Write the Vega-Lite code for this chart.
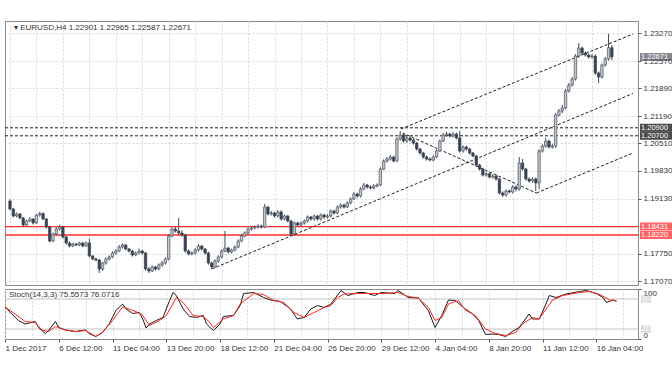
{
  "$schema": "https://vega.github.io/schema/vega-lite/v6.json",
  "autosize": {"type": "pad"},
  "padding": {"left": 3, "top": 20, "right": 0, "bottom": 0},
  "background": "white",
  "spacing": 2,
  "resolve": {"scale": {"color": "independent"}},
  "config": {
    "view": {"stroke": "#8a8a8a", "strokeWidth": 1},
    "font": "Liberation Sans",
    "axis": {"labelFont": "Liberation Sans", "labelFontSize": 8, "labelColor": "#333333", "tickColor": "#555555", "domain": false, "gridColor": "#d6d6d6", "gridDash": [2, 2], "gridWidth": 1, "title": null, "labelOverlap": false, "labelSeparation": 0}
  },
  "datasets": {
    "candles": [
      {"i":0,"o":1.1907,"h":1.1911,"l":1.1884,"c":1.1887},
      {"i":1,"o":1.1887,"h":1.1890,"l":1.1866,"c":1.18695},
      {"i":2,"o":1.18695,"h":1.1878,"l":1.1866,"c":1.18745},
      {"i":3,"o":1.18745,"h":1.1877,"l":1.1862,"c":1.18645},
      {"i":4,"o":1.18645,"h":1.1867,"l":1.1843,"c":1.1847},
      {"i":5,"o":1.1847,"h":1.1860,"l":1.1844,"c":1.1857},
      {"i":6,"o":1.1857,"h":1.1866,"l":1.1854,"c":1.1862},
      {"i":7,"o":1.1862,"h":1.1864,"l":1.1848,"c":1.1852},
      {"i":8,"o":1.1852,"h":1.1875,"l":1.1850,"c":1.1872},
      {"i":9,"o":1.1872,"h":1.1880,"l":1.1868,"c":1.1876},
      {"i":10,"o":1.1876,"h":1.1878,"l":1.1859,"c":1.1862},
      {"i":11,"o":1.1862,"h":1.1864,"l":1.1838,"c":1.1842},
      {"i":12,"o":1.1842,"h":1.1845,"l":1.1803,"c":1.1807},
      {"i":13,"o":1.1807,"h":1.1828,"l":1.1804,"c":1.18245},
      {"i":14,"o":1.18245,"h":1.1841,"l":1.1821,"c":1.1837},
      {"i":15,"o":1.1837,"h":1.1848,"l":1.1833,"c":1.1842},
      {"i":16,"o":1.1842,"h":1.1845,"l":1.1813,"c":1.1817},
      {"i":17,"o":1.1817,"h":1.1820,"l":1.1798,"c":1.1802},
      {"i":18,"o":1.1802,"h":1.1806,"l":1.1791,"c":1.17945},
      {"i":19,"o":1.17945,"h":1.1803,"l":1.1792,"c":1.17995},
      {"i":20,"o":1.17995,"h":1.1802,"l":1.1794,"c":1.1797},
      {"i":21,"o":1.1797,"h":1.1805,"l":1.1794,"c":1.1802},
      {"i":22,"o":1.1802,"h":1.1805,"l":1.1791,"c":1.17945},
      {"i":23,"o":1.17945,"h":1.1806,"l":1.1792,"c":1.1802},
      {"i":24,"o":1.1802,"h":1.1812,"l":1.1766,"c":1.17695},
      {"i":25,"o":1.17695,"h":1.1772,"l":1.1759,"c":1.1762},
      {"i":26,"o":1.1762,"h":1.1765,"l":1.1756,"c":1.17595},
      {"i":27,"o":1.17595,"h":1.1762,"l":1.1727,"c":1.1737},
      {"i":28,"o":1.1737,"h":1.1755,"l":1.1732,"c":1.1752},
      {"i":29,"o":1.1752,"h":1.1766,"l":1.1748,"c":1.1762},
      {"i":30,"o":1.1762,"h":1.1771,"l":1.1758,"c":1.1767},
      {"i":31,"o":1.1767,"h":1.1781,"l":1.1764,"c":1.1777},
      {"i":32,"o":1.1777,"h":1.1786,"l":1.1773,"c":1.1782},
      {"i":33,"o":1.1782,"h":1.1797,"l":1.1779,"c":1.1792},
      {"i":34,"o":1.1792,"h":1.1801,"l":1.1788,"c":1.1797},
      {"i":35,"o":1.1797,"h":1.1799,"l":1.1784,"c":1.1787},
      {"i":36,"o":1.1787,"h":1.1790,"l":1.1778,"c":1.1782},
      {"i":37,"o":1.1782,"h":1.1785,"l":1.1768,"c":1.1772},
      {"i":38,"o":1.1772,"h":1.1781,"l":1.1769,"c":1.1777},
      {"i":39,"o":1.1777,"h":1.1788,"l":1.1774,"c":1.1782},
      {"i":40,"o":1.1782,"h":1.1785,"l":1.1773,"c":1.1777},
      {"i":41,"o":1.1777,"h":1.1780,"l":1.1733,"c":1.1737},
      {"i":42,"o":1.1737,"h":1.1742,"l":1.1727,"c":1.1732},
      {"i":43,"o":1.1732,"h":1.1746,"l":1.1729,"c":1.1742},
      {"i":44,"o":1.1742,"h":1.1745,"l":1.1733,"c":1.1737},
      {"i":45,"o":1.1737,"h":1.1751,"l":1.1734,"c":1.1747},
      {"i":46,"o":1.1747,"h":1.1757,"l":1.1743,"c":1.1752},
      {"i":47,"o":1.1752,"h":1.1766,"l":1.1748,"c":1.1762},
      {"i":48,"o":1.1762,"h":1.1823,"l":1.1758,"c":1.18195},
      {"i":49,"o":1.18195,"h":1.1841,"l":1.1816,"c":1.1837},
      {"i":50,"o":1.1837,"h":1.1842,"l":1.1828,"c":1.1832},
      {"i":51,"o":1.1832,"h":1.18645,"l":1.1823,"c":1.1827},
      {"i":52,"o":1.1827,"h":1.1834,"l":1.1818,"c":1.1822},
      {"i":53,"o":1.1822,"h":1.1825,"l":1.1778,"c":1.1782},
      {"i":54,"o":1.1782,"h":1.1786,"l":1.1771,"c":1.17745},
      {"i":55,"o":1.17745,"h":1.1781,"l":1.1771,"c":1.1777},
      {"i":56,"o":1.1777,"h":1.1789,"l":1.1774,"c":1.17845},
      {"i":57,"o":1.17845,"h":1.1799,"l":1.1781,"c":1.17945},
      {"i":58,"o":1.17945,"h":1.1797,"l":1.1783,"c":1.1787},
      {"i":59,"o":1.1787,"h":1.1790,"l":1.1773,"c":1.1777},
      {"i":60,"o":1.1777,"h":1.1780,"l":1.1748,"c":1.1752},
      {"i":61,"o":1.1752,"h":1.1755,"l":1.1737,"c":1.1742},
      {"i":62,"o":1.1742,"h":1.1761,"l":1.1739,"c":1.1757},
      {"i":63,"o":1.1757,"h":1.1771,"l":1.1753,"c":1.1767},
      {"i":64,"o":1.1767,"h":1.1786,"l":1.1764,"c":1.1782},
      {"i":65,"o":1.1782,"h":1.1832,"l":1.1779,"c":1.17895},
      {"i":66,"o":1.17895,"h":1.1792,"l":1.1776,"c":1.17795},
      {"i":67,"o":1.17795,"h":1.1788,"l":1.1776,"c":1.17845},
      {"i":68,"o":1.17845,"h":1.1796,"l":1.1781,"c":1.1792},
      {"i":69,"o":1.1792,"h":1.1811,"l":1.1789,"c":1.1807},
      {"i":70,"o":1.1807,"h":1.1824,"l":1.1804,"c":1.18195},
      {"i":71,"o":1.18195,"h":1.1831,"l":1.1816,"c":1.1827},
      {"i":72,"o":1.1827,"h":1.1841,"l":1.1824,"c":1.1837},
      {"i":73,"o":1.1837,"h":1.1844,"l":1.1833,"c":1.18395},
      {"i":74,"o":1.18395,"h":1.1846,"l":1.1836,"c":1.1842},
      {"i":75,"o":1.1842,"h":1.1849,"l":1.1838,"c":1.18445},
      {"i":76,"o":1.18445,"h":1.1848,"l":1.1838,"c":1.1842},
      {"i":77,"o":1.1842,"h":1.18995,"l":1.1839,"c":1.1892},
      {"i":78,"o":1.1892,"h":1.1894,"l":1.1871,"c":1.18745},
      {"i":79,"o":1.18745,"h":1.1882,"l":1.1871,"c":1.1877},
      {"i":80,"o":1.1877,"h":1.1880,"l":1.1866,"c":1.18695},
      {"i":81,"o":1.18695,"h":1.1884,"l":1.1866,"c":1.18795},
      {"i":82,"o":1.18795,"h":1.1884,"l":1.1858,"c":1.1862},
      {"i":83,"o":1.1862,"h":1.1873,"l":1.1859,"c":1.18695},
      {"i":84,"o":1.18695,"h":1.1872,"l":1.1853,"c":1.1857},
      {"i":85,"o":1.1857,"h":1.1860,"l":1.1820,"c":1.18245},
      {"i":86,"o":1.18245,"h":1.1856,"l":1.1821,"c":1.1852},
      {"i":87,"o":1.1852,"h":1.1855,"l":1.1843,"c":1.1847},
      {"i":88,"o":1.1847,"h":1.1856,"l":1.1843,"c":1.1852},
      {"i":89,"o":1.1852,"h":1.1861,"l":1.1848,"c":1.1857},
      {"i":90,"o":1.1857,"h":1.1871,"l":1.1853,"c":1.1867},
      {"i":91,"o":1.1867,"h":1.1870,"l":1.1858,"c":1.1862},
      {"i":92,"o":1.1862,"h":1.1873,"l":1.1858,"c":1.18695},
      {"i":93,"o":1.18695,"h":1.1872,"l":1.1858,"c":1.1862},
      {"i":94,"o":1.1862,"h":1.1876,"l":1.1858,"c":1.1872},
      {"i":95,"o":1.1872,"h":1.1875,"l":1.1863,"c":1.1867},
      {"i":96,"o":1.1867,"h":1.1874,"l":1.1863,"c":1.18695},
      {"i":97,"o":1.18695,"h":1.1886,"l":1.1866,"c":1.1882},
      {"i":98,"o":1.1882,"h":1.1885,"l":1.1873,"c":1.1877},
      {"i":99,"o":1.1877,"h":1.1896,"l":1.1874,"c":1.1892},
      {"i":100,"o":1.1892,"h":1.1901,"l":1.1888,"c":1.1897},
      {"i":101,"o":1.1897,"h":1.1900,"l":1.1888,"c":1.1892},
      {"i":102,"o":1.1892,"h":1.1906,"l":1.1889,"c":1.1902},
      {"i":103,"o":1.1902,"h":1.1916,"l":1.1899,"c":1.1912},
      {"i":104,"o":1.1912,"h":1.1929,"l":1.1909,"c":1.19245},
      {"i":105,"o":1.19245,"h":1.1928,"l":1.1915,"c":1.19195},
      {"i":106,"o":1.19195,"h":1.1941,"l":1.1916,"c":1.1937},
      {"i":107,"o":1.1937,"h":1.1952,"l":1.1934,"c":1.1947},
      {"i":108,"o":1.1947,"h":1.1950,"l":1.1938,"c":1.1942},
      {"i":109,"o":1.1942,"h":1.1946,"l":1.1936,"c":1.19395},
      {"i":110,"o":1.19395,"h":1.1949,"l":1.1936,"c":1.19445},
      {"i":111,"o":1.19445,"h":1.1951,"l":1.1941,"c":1.1947},
      {"i":112,"o":1.1947,"h":1.1991,"l":1.1944,"c":1.1987},
      {"i":113,"o":1.1987,"h":1.2011,"l":1.1984,"c":1.2007},
      {"i":114,"o":1.2007,"h":1.2017,"l":1.2003,"c":1.2012},
      {"i":115,"o":1.2012,"h":1.2022,"l":1.2008,"c":1.2017},
      {"i":116,"o":1.2017,"h":1.2020,"l":1.2003,"c":1.2007},
      {"i":117,"o":1.2007,"h":1.2066,"l":1.2004,"c":1.2062},
      {"i":118,"o":1.2062,"h":1.2082,"l":1.2058,"c":1.2072},
      {"i":119,"o":1.2072,"h":1.2076,"l":1.2053,"c":1.2057},
      {"i":120,"o":1.2057,"h":1.2069,"l":1.2053,"c":1.20645},
      {"i":121,"o":1.20645,"h":1.2068,"l":1.2056,"c":1.20595},
      {"i":122,"o":1.20595,"h":1.2063,"l":1.2048,"c":1.2052},
      {"i":123,"o":1.2052,"h":1.2055,"l":1.2033,"c":1.2037},
      {"i":124,"o":1.2037,"h":1.2040,"l":1.2023,"c":1.2027},
      {"i":125,"o":1.2027,"h":1.2030,"l":1.2013,"c":1.2017},
      {"i":126,"o":1.2017,"h":1.2021,"l":1.2008,"c":1.2012},
      {"i":127,"o":1.2012,"h":1.2016,"l":1.2006,"c":1.20095},
      {"i":128,"o":1.20095,"h":1.2021,"l":1.2006,"c":1.2017},
      {"i":129,"o":1.2017,"h":1.2036,"l":1.2014,"c":1.2032},
      {"i":130,"o":1.2032,"h":1.2061,"l":1.2029,"c":1.2057},
      {"i":131,"o":1.2057,"h":1.2077,"l":1.2054,"c":1.2072},
      {"i":132,"o":1.2072,"h":1.2080,"l":1.2068,"c":1.20745},
      {"i":133,"o":1.20745,"h":1.2078,"l":1.2066,"c":1.20695},
      {"i":134,"o":1.20695,"h":1.2079,"l":1.2066,"c":1.20745},
      {"i":135,"o":1.20745,"h":1.2078,"l":1.2061,"c":1.20645},
      {"i":136,"o":1.20645,"h":1.2082,"l":1.2028,"c":1.2032},
      {"i":137,"o":1.2032,"h":1.2046,"l":1.2028,"c":1.2042},
      {"i":138,"o":1.2042,"h":1.2045,"l":1.2033,"c":1.2037},
      {"i":139,"o":1.2037,"h":1.2040,"l":1.2023,"c":1.2027},
      {"i":140,"o":1.2027,"h":1.2030,"l":1.2016,"c":1.20195},
      {"i":141,"o":1.20195,"h":1.2022,"l":1.1993,"c":1.1997},
      {"i":142,"o":1.1997,"h":1.2000,"l":1.1983,"c":1.1987},
      {"i":143,"o":1.1987,"h":1.1990,"l":1.1968,"c":1.1972},
      {"i":144,"o":1.1972,"h":1.1979,"l":1.1968,"c":1.1975},
      {"i":145,"o":1.1975,"h":1.1978,"l":1.1963,"c":1.1967},
      {"i":146,"o":1.1967,"h":1.1974,"l":1.1963,"c":1.19695},
      {"i":147,"o":1.19695,"h":1.1973,"l":1.1958,"c":1.1962},
      {"i":148,"o":1.1962,"h":1.1965,"l":1.1923,"c":1.1927},
      {"i":149,"o":1.1927,"h":1.1931,"l":1.1917,"c":1.1922},
      {"i":150,"o":1.1922,"h":1.1936,"l":1.1918,"c":1.1932},
      {"i":151,"o":1.1932,"h":1.1936,"l":1.1926,"c":1.19295},
      {"i":152,"o":1.19295,"h":1.1946,"l":1.1926,"c":1.1942},
      {"i":153,"o":1.1942,"h":1.1946,"l":1.1931,"c":1.1937},
      {"i":154,"o":1.1937,"h":1.2017,"l":1.1933,"c":1.2002},
      {"i":155,"o":1.2002,"h":1.2012,"l":1.1983,"c":1.1987},
      {"i":156,"o":1.1987,"h":1.1990,"l":1.1958,"c":1.1962},
      {"i":157,"o":1.1962,"h":1.1966,"l":1.1953,"c":1.1957},
      {"i":158,"o":1.1957,"h":1.1966,"l":1.1953,"c":1.1962},
      {"i":159,"o":1.1962,"h":1.1966,"l":1.1932,"c":1.1952},
      {"i":160,"o":1.1952,"h":1.2036,"l":1.1937,"c":1.2032},
      {"i":161,"o":1.2032,"h":1.2049,"l":1.2028,"c":1.20445},
      {"i":162,"o":1.20445,"h":1.2065,"l":1.2040,"c":1.2057},
      {"i":163,"o":1.2057,"h":1.2060,"l":1.2038,"c":1.2042},
      {"i":164,"o":1.2042,"h":1.2050,"l":1.2038,"c":1.20445},
      {"i":165,"o":1.20445,"h":1.2127,"l":1.2040,"c":1.2122},
      {"i":166,"o":1.2122,"h":1.2137,"l":1.2118,"c":1.2132},
      {"i":167,"o":1.2132,"h":1.2147,"l":1.2127,"c":1.21395},
      {"i":168,"o":1.21395,"h":1.2187,"l":1.2136,"c":1.2182},
      {"i":169,"o":1.2182,"h":1.2202,"l":1.2178,"c":1.2197},
      {"i":170,"o":1.2197,"h":1.2217,"l":1.2193,"c":1.2212},
      {"i":171,"o":1.2212,"h":1.2274,"l":1.2208,"c":1.22695},
      {"i":172,"o":1.22695,"h":1.2302,"l":1.2265,"c":1.22895},
      {"i":173,"o":1.22895,"h":1.2293,"l":1.2273,"c":1.2277},
      {"i":174,"o":1.2277,"h":1.2281,"l":1.2268,"c":1.2272},
      {"i":175,"o":1.2272,"h":1.2276,"l":1.2263,"c":1.2267},
      {"i":176,"o":1.2267,"h":1.2274,"l":1.2263,"c":1.22695},
      {"i":177,"o":1.22695,"h":1.2273,"l":1.2222,"c":1.2227},
      {"i":178,"o":1.2227,"h":1.2231,"l":1.2202,"c":1.2217},
      {"i":179,"o":1.2217,"h":1.2251,"l":1.2213,"c":1.2247},
      {"i":180,"o":1.2247,"h":1.2267,"l":1.2243,"c":1.2262},
      {"i":181,"o":1.2262,"h":1.2325,"l":1.2258,"c":1.22901},
      {"i":182,"o":1.22901,"h":1.22965,"l":1.22587,"c":1.22671}
    ],
    "hdash": [{"p": 1.209}, {"p": 1.207}],
    "hred": [{"p": 1.18431}, {"p": 1.1822}],
    "trend": [
      {"i0": 118.2, "p0": 1.2087, "i1": 188.4, "p1": 1.23245},
      {"i0": 61.0, "p0": 1.1737, "i1": 188.4, "p1": 1.21758},
      {"i0": 118.75, "p0": 1.2077, "i1": 159.2, "p1": 1.1927},
      {"i0": 159.2, "p0": 1.1927, "i1": 188.4, "p1": 1.2027}
    ],
    "badges": [
      {"p": 1.22671, "kind": "last"},
      {"p": 1.209, "kind": "level"},
      {"p": 1.207, "kind": "level"},
      {"p": 1.18431, "kind": "support"},
      {"p": 1.1822, "kind": "support"}
    ],
    "stoch": [
      {"i":0,"s":"K","v":65},{"i":2,"s":"K","v":50},{"i":4,"s":"K","v":37},{"i":6,"s":"K","v":30},{"i":9,"s":"K","v":35},{"i":10,"s":"K","v":23},{"i":12,"s":"K","v":11},{"i":13,"s":"K","v":17},{"i":15,"s":"K","v":35},{"i":16,"s":"K","v":23},{"i":18,"s":"K","v":18},{"i":21,"s":"K","v":15},{"i":24,"s":"K","v":18},{"i":25,"s":"K","v":11},{"i":27,"s":"K","v":5},{"i":29,"s":"K","v":13},{"i":31,"s":"K","v":30},{"i":33,"s":"K","v":57},{"i":35,"s":"K","v":70},{"i":36,"s":"K","v":60},{"i":38,"s":"K","v":51},{"i":40,"s":"K","v":53},{"i":41,"s":"K","v":40},{"i":42,"s":"K","v":22},{"i":43,"s":"K","v":30},{"i":45,"s":"K","v":37},{"i":47,"s":"K","v":43},{"i":49,"s":"K","v":77},{"i":50,"s":"K","v":93},{"i":51,"s":"K","v":87},{"i":53,"s":"K","v":60},{"i":55,"s":"K","v":45},{"i":57,"s":"K","v":43},{"i":59,"s":"K","v":47},{"i":60,"s":"K","v":30},{"i":62,"s":"K","v":17},{"i":64,"s":"K","v":30},{"i":65,"s":"K","v":45},{"i":68,"s":"K","v":47},{"i":70,"s":"K","v":67},{"i":71,"s":"K","v":91},{"i":74,"s":"K","v":93},{"i":77,"s":"K","v":83},{"i":79,"s":"K","v":78},{"i":82,"s":"K","v":75},{"i":85,"s":"K","v":60},{"i":87,"s":"K","v":40},{"i":89,"s":"K","v":43},{"i":91,"s":"K","v":60},{"i":93,"s":"K","v":67},{"i":95,"s":"K","v":63},{"i":97,"s":"K","v":70},{"i":100,"s":"K","v":97},{"i":102,"s":"K","v":87},{"i":105,"s":"K","v":93},{"i":107,"s":"K","v":93},{"i":110,"s":"K","v":87},{"i":112,"s":"K","v":93},{"i":116,"s":"K","v":91},{"i":117,"s":"K","v":97},{"i":120,"s":"K","v":83},{"i":123,"s":"K","v":82},{"i":126,"s":"K","v":57},{"i":128,"s":"K","v":23},{"i":130,"s":"K","v":47},{"i":132,"s":"K","v":78},{"i":134,"s":"K","v":77},{"i":137,"s":"K","v":60},{"i":139,"s":"K","v":51},{"i":141,"s":"K","v":37},{"i":143,"s":"K","v":9},{"i":145,"s":"K","v":10},{"i":147,"s":"K","v":9},{"i":149,"s":"K","v":5},{"i":151,"s":"K","v":15},{"i":153,"s":"K","v":23},{"i":156,"s":"K","v":50},{"i":157,"s":"K","v":40},{"i":159,"s":"K","v":40},{"i":161,"s":"K","v":70},{"i":162,"s":"K","v":87},{"i":164,"s":"K","v":83},{"i":167,"s":"K","v":90},{"i":171,"s":"K","v":95},{"i":173,"s":"K","v":97},{"i":176,"s":"K","v":91},{"i":178,"s":"K","v":83},{"i":179,"s":"K","v":73},{"i":181,"s":"K","v":78},{"i":182,"s":"K","v":75.56},
      {"i":0,"s":"D","v":64},{"i":3,"s":"D","v":50},{"i":6,"s":"D","v":35},{"i":9,"s":"D","v":33},{"i":11,"s":"D","v":18},{"i":13,"s":"D","v":15},{"i":15,"s":"D","v":25},{"i":18,"s":"D","v":18},{"i":21,"s":"D","v":15},{"i":24,"s":"D","v":17},{"i":27,"s":"D","v":5},{"i":29,"s":"D","v":13},{"i":32,"s":"D","v":37},{"i":35,"s":"D","v":64},{"i":39,"s":"D","v":55},{"i":41,"s":"D","v":47},{"i":43,"s":"D","v":27},{"i":46,"s":"D","v":37},{"i":48,"s":"D","v":47},{"i":51,"s":"D","v":83},{"i":53,"s":"D","v":73},{"i":56,"s":"D","v":47},{"i":59,"s":"D","v":45},{"i":61,"s":"D","v":33},{"i":62,"s":"D","v":23},{"i":65,"s":"D","v":40},{"i":68,"s":"D","v":47},{"i":70,"s":"D","v":70},{"i":74,"s":"D","v":91},{"i":77,"s":"D","v":89},{"i":80,"s":"D","v":77},{"i":83,"s":"D","v":73},{"i":86,"s":"D","v":53},{"i":89,"s":"D","v":43},{"i":92,"s":"D","v":53},{"i":95,"s":"D","v":63},{"i":97,"s":"D","v":67},{"i":99,"s":"D","v":83},{"i":101,"s":"D","v":90},{"i":105,"s":"D","v":91},{"i":109,"s":"D","v":91},{"i":113,"s":"D","v":91},{"i":117,"s":"D","v":93},{"i":120,"s":"D","v":85},{"i":123,"s":"D","v":82},{"i":126,"s":"D","v":63},{"i":128,"s":"D","v":37},{"i":130,"s":"D","v":43},{"i":132,"s":"D","v":70},{"i":135,"s":"D","v":77},{"i":137,"s":"D","v":58},{"i":140,"s":"D","v":47},{"i":143,"s":"D","v":20},{"i":146,"s":"D","v":11},{"i":149,"s":"D","v":7},{"i":152,"s":"D","v":13},{"i":154,"s":"D","v":30},{"i":157,"s":"D","v":43},{"i":159,"s":"D","v":40},{"i":161,"s":"D","v":60},{"i":163,"s":"D","v":78},{"i":166,"s":"D","v":87},{"i":171,"s":"D","v":93},{"i":174,"s":"D","v":95},{"i":177,"s":"D","v":89},{"i":180,"s":"D","v":78},{"i":182,"s":"D","v":76.07}
    ],
    "levels": [{"v": 80}, {"v": 20}]
  },
  "vconcat": [
    {
      "width": 633,
      "height": 264,
      "layer": [
        {
          "data": {"name": "hdash"},
          "mark": {"type": "rule", "color": "#1e1e1e", "strokeDash": [3, 2], "strokeWidth": 1},
          "encoding": {
            "y": {"field": "p", "type": "quantitative",
              "scale": {"domain": [1.1697, 1.2357], "nice": false, "zero": false},
              "axis": {"orient": "right", "values": [1.2327, 1.2257, 1.2189, 1.2119, 1.2051, 1.1983, 1.1913, 1.1775, 1.1707], "tickCount": 40, "format": ".5f", "grid": true, "tickSize": 3, "labelPadding": 2, "labelOverlap": false, "labelBound": false}}
          }
        },
        {
          "data": {"name": "hred"},
          "mark": {"type": "rule", "color": "#ff2b2b", "strokeWidth": 1.3},
          "encoding": {"y": {"field": "p", "type": "quantitative"}}
        },
        {
          "data": {"name": "trend"},
          "mark": {"type": "rule", "color": "#1e1e1e", "strokeDash": [3, 2], "strokeWidth": 1, "clip": true},
          "encoding": {
            "x": {"field": "i0", "type": "quantitative",
              "scale": {"domain": [0, 188.4], "nice": false, "zero": false},
              "axis": {"values": [0,8,16,24,32,40,48,56,64,72,80,88,96,104,112,120,128,136,144,152,160,168,176,184], "tickCount": 60, "labels": false, "ticks": false, "grid": true}},
            "x2": {"field": "i1"},
            "y": {"field": "p0", "type": "quantitative"},
            "y2": {"field": "p1"}
          }
        },
        {
          "data": {"name": "candles"},
          "mark": {"type": "rule", "color": "#414b58", "strokeWidth": 1, "clip": true},
          "encoding": {
            "x": {"field": "i", "type": "quantitative"},
            "y": {"field": "l", "type": "quantitative"},
            "y2": {"field": "h"}
          }
        },
        {
          "data": {"name": "candles"},
          "mark": {"type": "bar", "width": 2.4, "strokeWidth": 0.7, "clip": true},
          "encoding": {
            "x": {"field": "i", "type": "quantitative"},
            "y": {"field": "o", "type": "quantitative"},
            "y2": {"field": "c"},
            "fill": {"condition": {"test": "datum.c >= datum.o", "value": "#c3c8ce"}, "value": "#394351"},
            "stroke": {"condition": {"test": "datum.c >= datum.o", "value": "#4a5360"}, "value": "#394351"}
          }
        },
        {
          "data": {"name": "badges"},
          "mark": {"type": "tick", "orient": "horizontal", "thickness": 8, "size": 35, "xOffset": 19.5},
          "encoding": {
            "x": {"value": "width"},
            "y": {"field": "p", "type": "quantitative"},
            "color": {"field": "kind", "type": "nominal", "scale": {"domain": ["last", "level", "support"], "range": ["#50565e", "#000000", "#ff2020"]}, "legend": null}
          }
        },
        {
          "data": {"name": "badges"},
          "mark": {"type": "text", "align": "left", "baseline": "middle", "dx": 3, "fontSize": 7.5, "color": "white", "font": "Liberation Sans"},
          "encoding": {
            "x": {"value": "width"},
            "y": {"field": "p", "type": "quantitative"},
            "text": {"field": "p", "type": "quantitative", "format": ".5f"}
          }
        },
        {
          "data": {"values": [{"t": "▾  EURUSD,H4  1.22901 1.22965 1.22587 1.22671"}]},
          "mark": {"type": "text", "align": "left", "baseline": "top", "dy": 3, "fontSize": 8, "color": "#333333", "font": "Liberation Sans"},
          "encoding": {
            "x": {"datum": 1.2, "type": "quantitative"},
            "y": {"datum": 1.2357, "type": "quantitative"},
            "text": {"field": "t"}
          }
        }
      ]
    },
    {
      "width": 633,
      "height": 50,
      "layer": [
        {
          "data": {"name": "levels"},
          "mark": {"type": "rule", "color": "#c2c2c2", "strokeWidth": 1},
          "encoding": {
            "y": {"field": "v", "type": "quantitative",
              "scale": {"domain": [0, 100], "nice": false},
              "axis": {"orient": "right", "values": [0, 100], "labelFlush": true, "grid": false, "tickSize": 3, "labelPadding": 2}}
          }
        },
        {
          "data": {"name": "stoch"},
          "mark": {"type": "line", "strokeWidth": 1, "clip": true},
          "encoding": {
            "x": {"field": "i", "type": "quantitative",
              "scale": {"domain": [0, 188.4], "nice": false, "zero": false},
              "axis": {"values": [0,8,16,24,32,40,48,56,64,72,80,88,96,104,112,120,128,136,144,152,160,168,176,184], "tickCount": 60,
                "labelExpr": "['1 Dec 2017','6 Dec 12:00','11 Dec 04:00','13 Dec 20:00','18 Dec 12:00','21 Dec 04:00','26 Dec 20:00','29 Dec 12:00','4 Jan 04:00','8 Jan 20:00','11 Jan 12:00','16 Jan 04:00'][datum.value / 16] || ''",
                "labelAlign": "left", "labelPadding": 2, "labelOverlap": false, "labelBound": false, "labelFlush": false,
                "tickSize": 3, "tickOpacity": {"condition": {"test": "datum.value % 16 === 0", "value": 1}, "value": 0},
                "grid": true}},
            "y": {"field": "v", "type": "quantitative"},
            "color": {"field": "s", "type": "nominal", "scale": {"domain": ["K", "D"], "range": ["#1a1a1a", "#ff2424"]}, "legend": null}
          }
        },
        {
          "data": {"name": "levels"},
          "mark": {"type": "tick", "orient": "horizontal", "thickness": 7, "size": 10, "xOffset": 8},
          "encoding": {
            "x": {"value": "width"},
            "y": {"field": "v", "type": "quantitative"},
            "color": {"value": "#c4c4c4"}
          }
        },
        {
          "data": {"name": "levels"},
          "mark": {"type": "text", "align": "left", "baseline": "middle", "dx": 4, "fontSize": 7.5, "color": "white", "font": "Liberation Sans"},
          "encoding": {
            "x": {"value": "width"},
            "y": {"field": "v", "type": "quantitative"},
            "text": {"field": "v", "type": "quantitative"}
          }
        },
        {
          "data": {"values": [{"t": "Stoch(14,3,3) 75.5573 76.0716"}]},
          "mark": {"type": "text", "align": "left", "baseline": "top", "dy": 2, "fontSize": 8, "color": "#333333", "font": "Liberation Sans"},
          "encoding": {
            "x": {"datum": 1.2, "type": "quantitative"},
            "y": {"datum": 100, "type": "quantitative"},
            "text": {"field": "t"}
          }
        }
      ]
    }
  ]
}
